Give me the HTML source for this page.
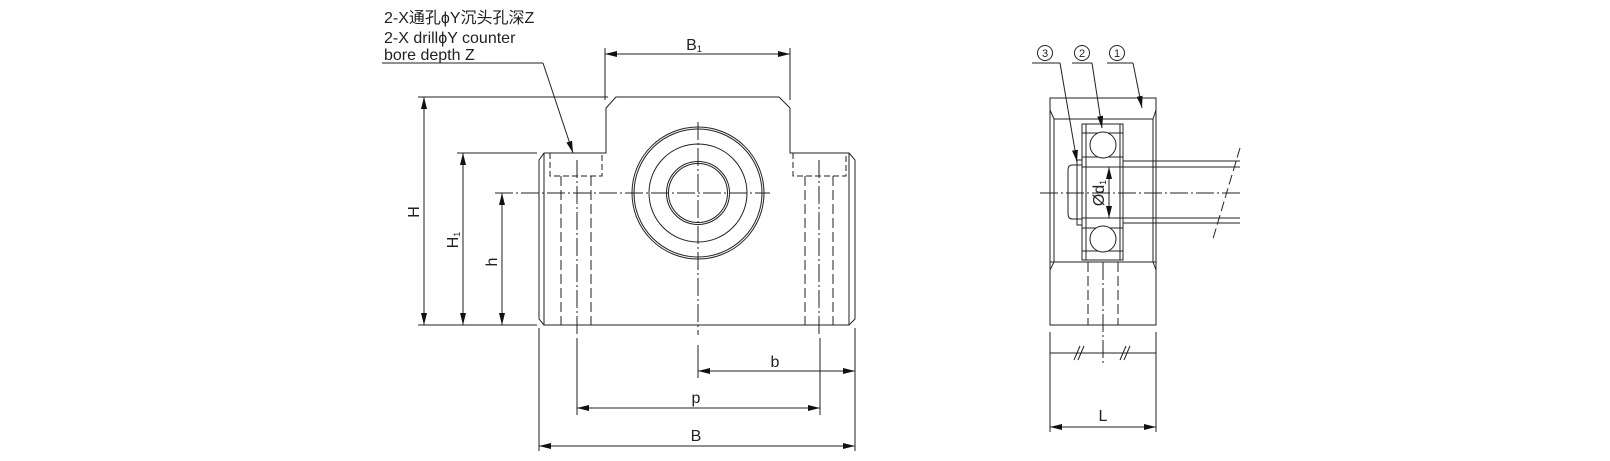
<!DOCTYPE html>
<html><head><meta charset="utf-8"><style>
html,body{margin:0;padding:0;background:#fff;}
svg{display:block;}
text{font-family:"Liberation Sans","Noto Sans CJK SC",sans-serif;fill:#222;}
</style></head><body>
<svg width="1610" height="461" viewBox="0 0 1610 461" xmlns="http://www.w3.org/2000/svg">
<defs>
<marker id="a" viewBox="0 0 12 6" refX="12" refY="3" markerWidth="12" markerHeight="6" markerUnits="userSpaceOnUse" orient="auto-start-reverse"><path d="M0,0 L12,3 L0,6 z" fill="#111"/></marker>
</defs>
<g stroke="#222" stroke-width="1" fill="none">
<path d="M539,160 L544,153 L606,153 L606,108 L616,97 L779,97 L790,108 L790,153 L849,153 L855,160 L855,319 L849,325 L544,325 L539,319 Z"/>
<line x1="544" y1="153" x2="544" y2="325"/>
<line x1="849" y1="153" x2="849" y2="325"/>
<polyline points="550,153 550,176 602,176 602,153" stroke-dasharray="6,3"/>
<polyline points="793,153 793,176 846,176 846,153" stroke-dasharray="6,3"/>
<g stroke-dasharray="10,4">
<line x1="561" y1="176" x2="561" y2="325"/><line x1="591" y1="176" x2="591" y2="325"/>
<line x1="805" y1="176" x2="805" y2="325"/><line x1="833" y1="176" x2="833" y2="325"/>
</g>
<g stroke-dasharray="18,3,2,3">
<line x1="577" y1="160" x2="577" y2="335"/><line x1="819" y1="160" x2="819" y2="335"/>
<line x1="698" y1="122" x2="698" y2="335"/>
<line x1="495" y1="193" x2="770" y2="193"/>
</g>
<circle cx="698" cy="193" r="66"/><circle cx="698" cy="193" r="64"/>
<circle cx="698" cy="193" r="49"/>
<circle cx="698" cy="193" r="31.5"/><circle cx="698" cy="193" r="29.5"/>
<line x1="418" y1="97" x2="608" y2="97"/>
<line x1="457" y1="153" x2="537" y2="153"/>
<line x1="418" y1="325" x2="537" y2="325"/>
<line x1="424" y1="97" x2="424" y2="325" marker-start="url(#a)" marker-end="url(#a)"/>
<line x1="463" y1="153" x2="463" y2="325" marker-start="url(#a)" marker-end="url(#a)"/>
<line x1="502" y1="193" x2="502" y2="325" marker-start="url(#a)" marker-end="url(#a)"/>
<line x1="605" y1="48" x2="605" y2="100"/><line x1="790" y1="48" x2="790" y2="100"/>
<line x1="605" y1="54" x2="790" y2="54" marker-start="url(#a)" marker-end="url(#a)"/>
<line x1="539" y1="328" x2="539" y2="451"/><line x1="855" y1="328" x2="855" y2="451"/>
<line x1="577" y1="338" x2="577" y2="415"/><line x1="820" y1="338" x2="820" y2="415"/>
<line x1="698" y1="345" x2="698" y2="378"/>
<line x1="698" y1="371" x2="855" y2="371" marker-start="url(#a)" marker-end="url(#a)"/>
<line x1="577" y1="408" x2="820" y2="408" marker-start="url(#a)" marker-end="url(#a)"/>
<line x1="539" y1="446" x2="855" y2="446" marker-start="url(#a)" marker-end="url(#a)"/>
<polyline points="382,63 543,63"/>
<line x1="543" y1="63" x2="573" y2="153" marker-end="url(#a)"/>
<rect x="1050" y="98" width="106" height="227"/>
<line x1="1054" y1="119" x2="1153" y2="119"/>
<line x1="1050" y1="110" x2="1054" y2="119"/><line x1="1156" y1="110" x2="1153" y2="119"/>
<line x1="1054" y1="119" x2="1054" y2="262"/><line x1="1153" y1="119" x2="1153" y2="262"/>
<line x1="1050" y1="262" x2="1156" y2="262"/>
<line x1="1050" y1="270" x2="1054" y2="262"/><line x1="1156" y1="270" x2="1153" y2="262"/>
<rect x="1082" y="124" width="41" height="136"/>
<line x1="1086" y1="124" x2="1086" y2="260"/><line x1="1120" y1="124" x2="1120" y2="260"/>
<line x1="1082" y1="133" x2="1123" y2="133"/><line x1="1082" y1="157" x2="1123" y2="157"/>
<line x1="1082" y1="228" x2="1123" y2="228"/><line x1="1082" y1="251" x2="1123" y2="251"/>
<circle cx="1103" cy="145" r="13" fill="#fff"/><circle cx="1103" cy="239" r="13" fill="#fff"/>
<line x1="1082" y1="167" x2="1123" y2="167"/><line x1="1082" y1="218" x2="1123" y2="218"/>
<line x1="1123" y1="161" x2="1240" y2="161"/><line x1="1123" y1="167" x2="1240" y2="167"/>
<line x1="1123" y1="218" x2="1240" y2="218"/><line x1="1123" y1="223" x2="1240" y2="223"/>
<line x1="1240" y1="148" x2="1212" y2="242" stroke-dasharray="10,4"/>
<path d="M1082,165 L1072,165 Q1068,165 1068,170 L1068,213 Q1068,219 1072,219 L1082,219"/>
<rect x="1077" y="160" width="5" height="65"/>
<line x1="1040" y1="193" x2="1240" y2="193" stroke-dasharray="18,3,2,3"/>
<line x1="1109" y1="167" x2="1109" y2="218" marker-start="url(#a)" marker-end="url(#a)"/>
<g stroke-dasharray="10,4">
<line x1="1088" y1="262" x2="1088" y2="325"/><line x1="1118" y1="262" x2="1118" y2="325"/>
</g>
<line x1="1103" y1="262" x2="1103" y2="365" stroke-dasharray="18,3,2,3"/>
<line x1="1050" y1="332" x2="1050" y2="432"/><line x1="1156" y1="332" x2="1156" y2="432"/>
<line x1="1050" y1="353" x2="1156" y2="353"/>
<line x1="1074" y1="360" x2="1080" y2="346"/><line x1="1078" y1="360" x2="1084" y2="346"/>
<line x1="1120" y1="360" x2="1126" y2="346"/><line x1="1124" y1="360" x2="1130" y2="346"/>
<line x1="1050" y1="427" x2="1156" y2="427" marker-start="url(#a)" marker-end="url(#a)"/>
<line x1="1032" y1="63" x2="1060" y2="63"/><line x1="1060" y1="63" x2="1077" y2="162" marker-end="url(#a)"/>
<line x1="1072" y1="63" x2="1092" y2="63"/><line x1="1092" y1="63" x2="1102" y2="128" marker-end="url(#a)"/>
<line x1="1107" y1="63" x2="1133" y2="63"/><line x1="1133" y1="63" x2="1142" y2="108" marker-end="url(#a)"/>
<circle cx="1045" cy="53" r="7.5"/><circle cx="1082" cy="53" r="7.5"/><circle cx="1117" cy="53" r="7.5"/>
</g>
<g font-size="11" text-anchor="middle">
<text x="1045" y="57">3</text><text x="1082" y="57">2</text><text x="1117" y="57">1</text>
</g>
<g font-size="16">
<text x="384" y="23">2-X通孔ϕY沉头孔深Z</text>
<text x="384" y="43">2-X drillϕY counter</text>
<text x="384" y="60">bore depth Z</text>
</g>
<g font-size="16" text-anchor="middle">
<text x="694" y="50">B<tspan font-size="9" dy="2">1</tspan></text>
<text x="775" y="367">b</text>
<text x="696" y="403">p</text>
<text x="696" y="441">B</text>
<text x="1103" y="421">L</text>
<text transform="translate(419,212) rotate(-90)">H</text>
<text transform="translate(458,240) rotate(-90)">H<tspan font-size="9" dy="2">1</tspan></text>
<text transform="translate(497,262) rotate(-90)">h</text>
<text transform="translate(1104,193) rotate(-90)">Ød<tspan font-size="9" dy="2">1</tspan></text>
</g>
</svg>
</body></html>
